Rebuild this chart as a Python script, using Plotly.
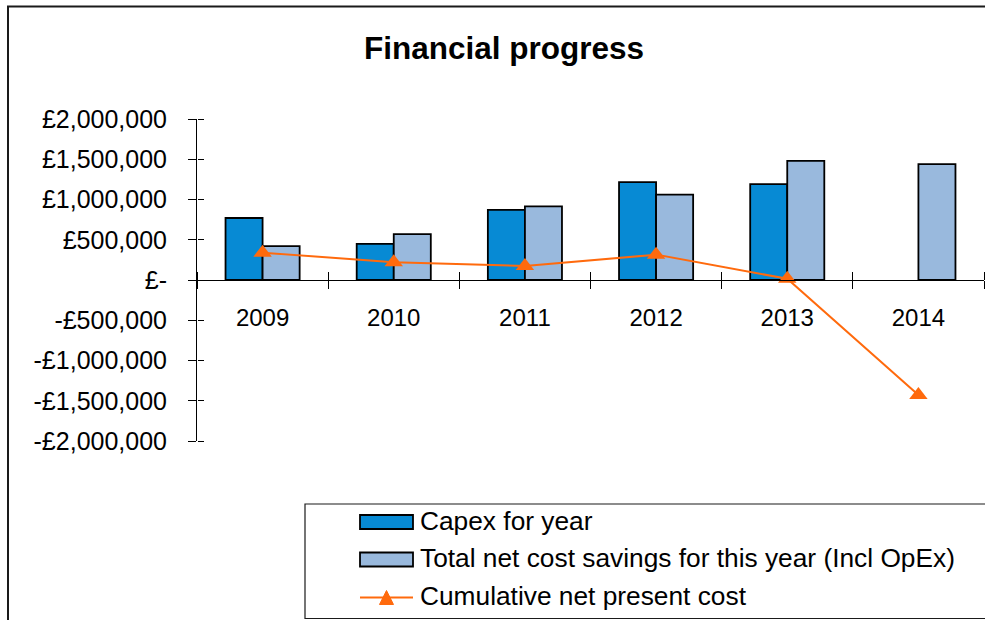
import plotly.graph_objects as go

# Yearly figures (GBP)
years = ["2009", "2010", "2011", "2012", "2013", "2014"]
capex = [770000, 450000, 870000, 1215000, 1190000, None]
savings = [420000, 570000, 915000, 1060000, 1480000, 1440000]
cumulative_npc = [340000, 220000, 175000, 315000, 15000, -1430000]

y_tick_vals = [2000000, 1500000, 1000000, 500000, 0, -500000, -1000000, -1500000, -2000000]
y_tick_text = ["£2,000,000", "£1,500,000", "£1,000,000", "£500,000", "£-",
               "-£500,000", "-£1,000,000", "-£1,500,000", "-£2,000,000"]

series_names = ["Capex for year",
                "Total net cost savings for this year (Incl OpEx)",
                "Cumulative net present cost"]

CAPEX_BLUE = "#078AD4"
SAVINGS_BLUE = "#99B9DD"
NPC_ORANGE = "#FF6A0D"
FONT = "Liberation Sans, Arial, sans-serif"

W, H = 985, 620
L, R, T, B = 197, 1, 119, 179
PW, PH = W - L - R, H - T - B


def xp(px):
    return (px - L) / PW


def yp(py):
    return (T + PH - py) / PH


fig = go.Figure()
fig.add_trace(go.Bar(x=years, y=capex, name=series_names[0],
                     marker=dict(color=CAPEX_BLUE, line=dict(color="black", width=1.8)),
                     showlegend=False))
fig.add_trace(go.Bar(x=years, y=savings, name=series_names[1],
                     marker=dict(color=SAVINGS_BLUE, line=dict(color="black", width=1.8)),
                     showlegend=False))
fig.add_trace(go.Scatter(x=years, y=cumulative_npc, name=series_names[2], mode="lines+markers",
                         line=dict(color=NPC_ORANGE, width=2),
                         marker=dict(symbol="triangle-up", size=16, color=NPC_ORANGE),
                         showlegend=False))
# carrier for the overlay axes that draw the inner half of the crossing ticks
fig.add_trace(go.Scatter(x=years, y=cumulative_npc, xaxis="x2", yaxis="y2", mode="markers",
                         marker=dict(opacity=0, size=1), hoverinfo="skip", showlegend=False))

fig.update_layout(
    width=W, height=H,
    margin=dict(l=L, r=R, t=T, b=B),
    paper_bgcolor="white", plot_bgcolor="white",
    font=dict(family=FONT, color="black"),
    barmode="group", bargap=0.435, bargroupgap=0,
    title=dict(text="<b>Financial progress</b>", x=504 / W, xanchor="center",
               y=1 - 48 / H, yanchor="middle", yref="container",
               font=dict(family=FONT, size=31.5, color="black")),
    xaxis=dict(type="category", range=[-0.5, 5.5], anchor="free", position=0.5,
               showline=True, linecolor="black", linewidth=1,
               ticks="outside", ticklen=8, tickcolor="black", tickson="boundaries",
               tickfont=dict(family=FONT, size=24, color="black"), ticklabelstandoff=16,
               showgrid=False, zeroline=False),
    yaxis=dict(range=[-2000000, 2000000], tickvals=y_tick_vals, ticktext=y_tick_text,
               showline=True, linecolor="black", linewidth=1,
               ticks="outside", ticklen=8, tickcolor="black",
               tickfont=dict(family=FONT, size=25, color="black"), ticklabelstandoff=16,
               showgrid=False, zeroline=False),
    xaxis2=dict(type="category", overlaying="x", range=[-0.5, 5.5], anchor="free", position=0.5,
                side="top", showline=False, ticks="outside", ticklen=8, tickcolor="black",
                tickson="boundaries", showticklabels=False, showgrid=False, zeroline=False,
                layer="above traces"),
    yaxis2=dict(overlaying="y", anchor="free", position=0, side="right",
                range=[-2000000, 2000000], tickvals=y_tick_vals, showline=False,
                ticks="outside", ticklen=6, tickcolor="black", showticklabels=False,
                showgrid=False, zeroline=False, layer="above traces"),
)

shapes = []
# outer chart frame
shapes.append(dict(type="rect", xref="paper", yref="paper",
                   x0=xp(8), x1=xp(1010), y0=yp(6.5), y1=yp(650),
                   line=dict(color="#1a1a1a", width=2), fillcolor="rgba(0,0,0,0)", layer="below"))
# legend box
shapes.append(dict(type="rect", xref="paper", yref="paper",
                   x0=xp(305), x1=xp(1010), y0=yp(504), y1=yp(618.5),
                   line=dict(color="#1a1a1a", width=1.2), fillcolor="white"))

row_y = [522, 559.5, 597.5]
sw_x0, sw_x1 = 360, 413
for color, cy in zip([CAPEX_BLUE, SAVINGS_BLUE], row_y[:2]):
    shapes.append(dict(type="rect", xref="paper", yref="paper",
                       x0=xp(sw_x0), x1=xp(sw_x1), y0=yp(cy - 7), y1=yp(cy + 7),
                       line=dict(color="black", width=1.8), fillcolor=color))
cy = row_y[2]
shapes.append(dict(type="line", xref="paper", yref="paper",
                   x0=xp(sw_x0), x1=xp(sw_x1), y0=yp(cy), y1=yp(cy),
                   line=dict(color=NPC_ORANGE, width=2)))
cx = (sw_x0 + sw_x1) / 2
tri = "M {:.5f},{:.5f} L {:.5f},{:.5f} L {:.5f},{:.5f} Z".format(
    xp(cx), yp(cy - 7), xp(cx - 7), yp(cy + 7), xp(cx + 7), yp(cy + 7))
shapes.append(dict(type="path", xref="paper", yref="paper", path=tri,
                   line=dict(color=NPC_ORANGE, width=1), fillcolor=NPC_ORANGE))

annotations = []
for name, ty in zip(series_names, [521, 558, 595.5]):
    annotations.append(dict(text=name, xref="paper", yref="paper", x=xp(418), y=yp(ty),
                            xanchor="left", yanchor="middle", showarrow=False,
                            font=dict(family=FONT, size=26.3, color="black")))

fig.update_layout(shapes=shapes, annotations=annotations)

fig.write_html("out.html")
